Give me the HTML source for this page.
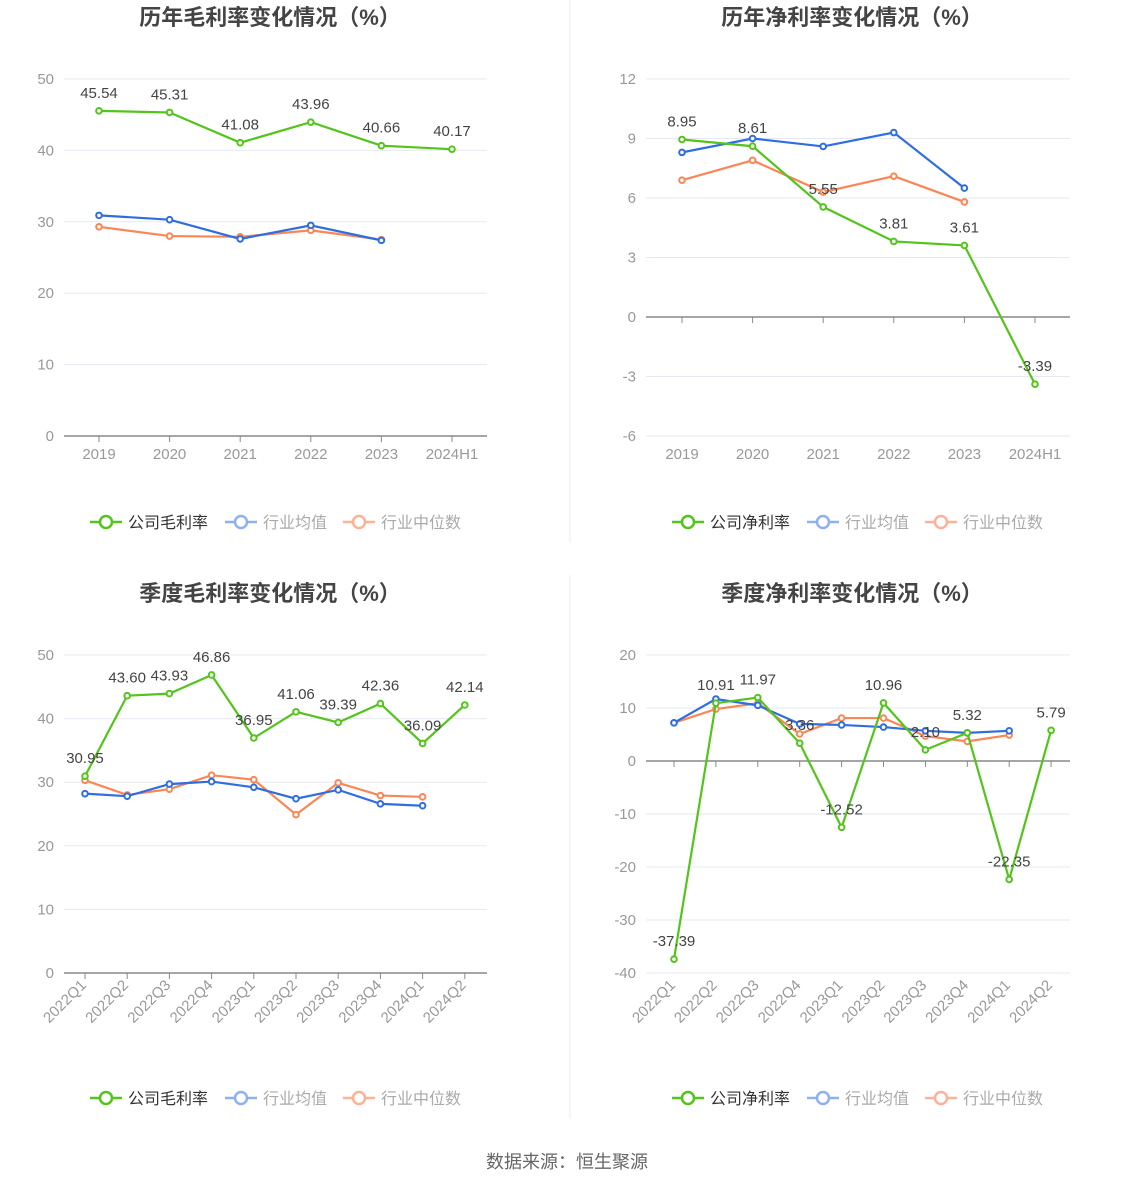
<!DOCTYPE html>
<html><head><meta charset="utf-8">
<style>
html,body{margin:0;padding:0;background:#fff;}
body{width:1134px;height:1188px;overflow:hidden;font-family:"Liberation Sans","Noto Sans CJK SC",sans-serif;}
svg text{font-family:"Liberation Sans","Noto Sans CJK SC",sans-serif;}
</style></head>
<body>
<svg id="root" width="1134" height="1188" xmlns="http://www.w3.org/2000/svg">
<line x1="570" y1="0" x2="570" y2="542" stroke="#eceef2"/>
<line x1="570" y1="575" x2="570" y2="1118" stroke="#eceef2"/>
<text x="567" y="1168" text-anchor="middle" font-size="18" fill="#666">数据来源：恒生聚源</text>
</svg>
<script>
const yearCats=["2019","2020","2021","2022","2023","2024H1"];
const quarterCats=["2022Q1","2022Q2","2022Q3","2022Q4","2023Q1","2023Q2","2023Q3","2023Q4","2024Q1","2024Q2"];
const grossCompany=[45.54,45.31,41.08,43.96,40.66,40.17];
const grossAvg=[30.9,30.3,27.6,29.5,27.4];
const grossMedian=[29.3,28.0,27.9,28.8,27.5];
const netCompany=[8.95,8.61,5.55,3.81,3.61,-3.39];
const netAvg=[8.3,9.0,8.6,9.3,6.5];
const netMedian=[6.9,7.9,6.3,7.1,5.8];
const qGrossCompany=[30.95,43.60,43.93,46.86,36.95,41.06,39.39,42.36,36.09,42.14];
const qGrossAvg=[28.2,27.8,29.7,30.1,29.2,27.4,28.8,26.6,26.3];
const qGrossMedian=[30.3,28.0,28.9,31.1,30.4,24.9,29.9,27.9,27.7];
const qNetCompany=[-37.39,10.91,11.97,3.36,-12.52,10.96,2.10,5.32,-22.35,5.79];
const qNetAvg=[7.2,11.7,10.5,7.0,6.8,6.4,5.7,5.3,5.7];
const qNetMedian=[7.2,9.8,10.9,5.1,8.1,8.1,4.7,3.7,4.9];
const yTicksGross=[0,10,20,30,40,50];
const yTicksNet=[-6,-3,0,3,6,9,12];
const yTicksQNet=[-40,-30,-20,-10,0,10,20];

const NS="http://www.w3.org/2000/svg";
const root=document.getElementById('root');
function mk(tag,attrs,parent){const e=document.createElementNS(NS,tag);for(const k in attrs)e.setAttribute(k,attrs[k]);(parent||root).appendChild(e);return e;}

function chart(o){
  const g=mk('g',{});
  
  
  const ymin=o.ticks[0],ymax=o.ticks[o.ticks.length-1];
  const Y=v=>o.yBot-(v-ymin)/(ymax-ymin)*(o.yBot-o.yTop);
  const X=i=>o.x0+i*o.step;
  const t=mk('text',{x:o.cx,y:25,'text-anchor':'middle','font-size':'22','font-weight':'bold',fill:'#444'},g);
  t.textContent=o.title;
  
  
  if(o.offY){t.setAttribute('y',25+o.offY);}
  o.ticks.forEach(v=>{
    const y=Y(v);
    if(v!==o.axisAt){const l=mk('line',{x1:o.left,x2:o.right,y1:y,y2:y,stroke:'#e6e9f0'},g);
      
      }
    const tl=mk('text',{x:o.left-10,y:y+5,'text-anchor':'end','font-size':'15',fill:'#999'},g);
    tl.textContent=v;
    
    
  });
  const ay=Y(o.axisAt);
  const ax=mk('line',{x1:o.left,x2:o.right,y1:ay,y2:ay,stroke:'#888','stroke-width':1.5},g);
  
  
  o.cats.forEach((c,i)=>{
    const x=X(i);
    mk('line',{x1:x,x2:x,y1:ay,y2:ay+6,stroke:'#888'},g);
    const tl=mk('text',{'font-size':'15',fill:'#999'},g);
    tl.textContent=c;
    
    
    if(o.rotate){tl.setAttribute('text-anchor','end');tl.setAttribute('transform',`translate(${x+2},${o.yBot+13}) rotate(-45)`);}
    else{tl.setAttribute('x',x);tl.setAttribute('y',o.yBot+23);tl.setAttribute('text-anchor','middle');}
  });
  const series=[[o.median,'#fb8655','median'],[o.avg,'#2f6de1','average'],[o.comp,'#52c41a','company']];
  series.forEach(([d,col,nm])=>{
    const pts=d.map((v,i)=>X(i)+','+Y(v)).join(' ');
    const pl=mk('polyline',{points:pts,fill:'none',stroke:col,'stroke-width':2.2},g);
    
    
    d.forEach((v,i)=>{
      const c=mk('circle',{cx:X(i),cy:Y(v),r:2.8,fill:'#fff',stroke:col,'stroke-width':2},g);
      
      
    });
  });
  o.comp.forEach((v,i)=>{
    const l=mk('text',{x:X(i),y:Y(v)-13,'text-anchor':'middle','font-size':'15',fill:'#444'},g);
    l.textContent=v.toFixed(2);
    
    
  });
  const ly=o.legendY;
  const items=[[o.compName,'#52c41a','#333',90],['行业均值','#8fb0f5','#aaa',225],['行业中位数','#fdb196','#aaa',343]];
  items.forEach(([n,col,tc,lx])=>{
    const lg=mk('g',{},g);
    
    
    const bx=o.cx-270+lx;
    mk('line',{x1:bx,x2:bx+32,y1:ly,y2:ly,stroke:col,'stroke-width':2.5},lg);
    mk('circle',{cx:bx+16,cy:ly,r:6,fill:'#fff',stroke:col,'stroke-width':2.5},lg);
    const tt=mk('text',{x:bx+38,y:ly+6,'font-size':'16',fill:tc},lg);
    tt.textContent=n;
  });
}
chart({name:'annual-gross-margin-chart',title:'历年毛利率变化情况（%）',cx:270,left:64,right:487,x0:99,step:70.6,yTop:79,yBot:436,ticks:yTicksGross,axisAt:0,cats:yearCats,comp:grossCompany,avg:grossAvg,median:grossMedian,compName:'公司毛利率',legendY:522});
chart({name:'annual-net-margin-chart',title:'历年净利率变化情况（%）',cx:852,left:646,right:1070,x0:682,step:70.6,yTop:79,yBot:436,ticks:yTicksNet,axisAt:0,cats:yearCats,comp:netCompany,avg:netAvg,median:netMedian,compName:'公司净利率',legendY:522});
chart({name:'quarterly-gross-margin-chart',title:'季度毛利率变化情况（%）',offY:576,cx:270,left:64,right:487,x0:85,step:42.2,yTop:655,yBot:973,ticks:yTicksGross,axisAt:0,cats:quarterCats,rotate:true,comp:qGrossCompany,avg:qGrossAvg,median:qGrossMedian,compName:'公司毛利率',legendY:1098});
chart({name:'quarterly-net-margin-chart',title:'季度净利率变化情况（%）',offY:576,cx:852,left:646,right:1070,x0:674,step:41.9,yTop:655,yBot:973,ticks:yTicksQNet,axisAt:0,cats:quarterCats,rotate:true,comp:qNetCompany,avg:qNetAvg,median:qNetMedian,compName:'公司净利率',legendY:1098});
</script>
</body></html>
